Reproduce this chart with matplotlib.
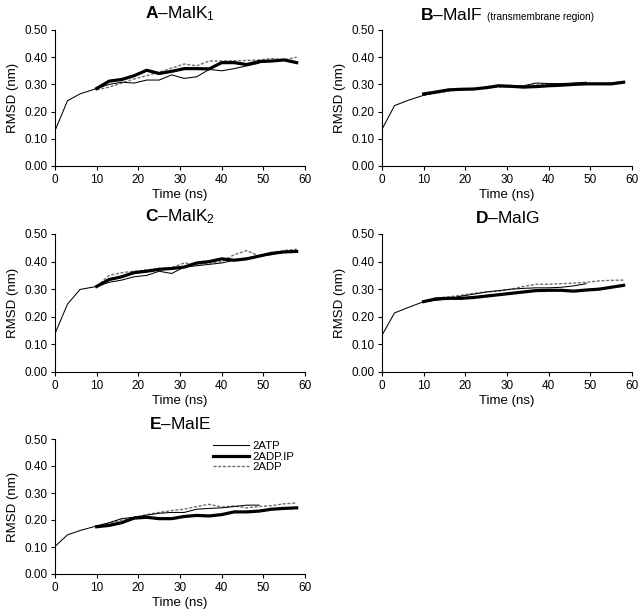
import matplotlib
matplotlib.use('Agg')
import matplotlib.pyplot as plt
from matplotlib.offsetbox import TextArea, HPacker, AnchoredOffsetbox

plt.rcParams['font.family'] = ['Liberation Sans', 'DejaVu Sans']
plt.rcParams['mathtext.fontset'] = 'custom'
plt.rcParams['mathtext.rm'] = 'Liberation Sans'
plt.rcParams['mathtext.bf'] = 'Liberation Sans:bold'
plt.rcParams['mathtext.it'] = 'Liberation Sans:italic'

# ---- data ----
T_ATP = [0, 3, 6, 10, 13, 16, 19, 22, 25, 28, 31, 34, 37, 40, 43, 46, 49, 52, 55, 58]
T_RUN = [10, 13, 16, 19, 22, 25, 28, 31, 34, 37, 40, 43, 46, 49, 52, 55, 58]

X_TICKS = [0, 10, 20, 30, 40, 50, 60]
Y_TICKS = [0.0, 0.1, 0.2, 0.3, 0.4, 0.5]
Y_TICK_LABELS = ['0.00', '0.10', '0.20', '0.30', '0.40', '0.50']
SERIES_NAMES = ['2ATP', '2ADP.IP', '2ADP']

# Panel A - MalK1
A_atp = [0.13, 0.24, 0.265, 0.285, 0.300, 0.308, 0.305, 0.316, 0.316, 0.335, 0.322, 0.328,
         0.355, 0.350, 0.358, 0.368, 0.378]
A_adpip = [0.285, 0.312, 0.318, 0.332, 0.352, 0.340, 0.348, 0.358, 0.358, 0.357, 0.380,
           0.380, 0.373, 0.384, 0.386, 0.390, 0.380]
A_adp = [0.280, 0.290, 0.305, 0.320, 0.332, 0.345, 0.360, 0.375, 0.368, 0.386, 0.386,
         0.387, 0.388, 0.390, 0.395, 0.390, 0.400]

# Panel B - MalF
B_atp = [0.135, 0.222, 0.240, 0.260, 0.270, 0.278, 0.283, 0.283, 0.287, 0.295, 0.293, 0.295,
         0.305, 0.303, 0.303, 0.305, 0.308]
B_adpip = [0.265, 0.272, 0.280, 0.282, 0.283, 0.288, 0.295, 0.293, 0.290, 0.292, 0.295,
           0.297, 0.300, 0.302, 0.302, 0.302, 0.308]
B_adp = [0.260, 0.268, 0.275, 0.283, 0.283, 0.287, 0.290, 0.290, 0.293, 0.298, 0.300,
         0.302, 0.303, 0.305, 0.305, 0.305, 0.310]

# Panel C - MalK2
C_atp = [0.139, 0.246, 0.299, 0.310, 0.325, 0.333, 0.345, 0.350, 0.365, 0.357, 0.380, 0.385,
         0.390, 0.395, 0.405, 0.410, 0.420, 0.425, 0.435, 0.440]
C_adpip = [0.310, 0.335, 0.345, 0.360, 0.365, 0.372, 0.375, 0.380, 0.395, 0.400, 0.410,
           0.405, 0.410, 0.420, 0.430, 0.435, 0.437]
C_adp = [0.310, 0.350, 0.360, 0.365, 0.370, 0.375, 0.378, 0.395, 0.390, 0.395, 0.400,
         0.425, 0.440, 0.420, 0.430, 0.440, 0.445]

# Panel D - MalG
D_atp = [0.133, 0.214, 0.232, 0.255, 0.260, 0.265, 0.275, 0.282, 0.290, 0.295, 0.300, 0.303,
         0.305, 0.305, 0.307, 0.312, 0.320]
D_adpip = [0.255, 0.265, 0.267, 0.267, 0.270, 0.275, 0.280, 0.285, 0.290, 0.295, 0.296,
           0.296, 0.293, 0.297, 0.300, 0.307, 0.314]
D_adp = [0.255, 0.268, 0.272, 0.278, 0.285, 0.290, 0.293, 0.300, 0.310, 0.318, 0.318,
         0.320, 0.322, 0.325, 0.330, 0.332, 0.333]

# Panel E - MalE
E_atp = [0.102, 0.145, 0.161, 0.178, 0.190, 0.205, 0.210, 0.218, 0.225, 0.228, 0.228, 0.240,
         0.243, 0.245, 0.250, 0.255, 0.255]
E_adpip = [0.175, 0.180, 0.190, 0.207, 0.210, 0.205, 0.205, 0.213, 0.217, 0.215, 0.220,
           0.230, 0.230, 0.233, 0.240, 0.243, 0.245]
E_adp = [0.178, 0.188, 0.200, 0.210, 0.220, 0.228, 0.235, 0.240, 0.250, 0.258, 0.248,
         0.252, 0.245, 0.250, 0.253, 0.260, 0.263]

PANELS = [
    ('A', r'–MalK$_1$', None, A_atp, A_adpip, A_adp),
    ('B', '–MalF', '(transmembrane region)', B_atp, B_adpip, B_adp),
    ('C', r'–MalK$_2$', None, C_atp, C_adpip, C_adp),
    ('D', '–MalG', None, D_atp, D_adpip, D_adp),
    ('E', '–MalE', None, E_atp, E_adpip, E_adp),
]

# axes rectangles in pixels: left, top, right, bottom
W, H = 643, 612
RECTS = [
    (55, 30, 305, 166),
    (382, 30, 632, 166),
    (55, 234, 305, 372),
    (382, 234, 632, 372),
    (55, 439, 305, 574),
]

fig = plt.figure(figsize=(W / 100, H / 100), dpi=100)

for (letter, name, sub, atp, adpip, adp), (l, t, r, b) in zip(PANELS, RECTS):
    ax = fig.add_axes([l / W, (H - b) / H, (r - l) / W, (b - t) / H])
    la, = ax.plot(T_ATP[:len(atp)], atp, color='black', lw=0.75, zorder=4)
    lb, = ax.plot(T_RUN[:len(adpip)], adpip, color='black', lw=2.3, zorder=3,
                  solid_joinstyle='round')
    lc, = ax.plot(T_RUN[:len(adp)], adp, color='#707070', lw=1.0, dashes=(2.2, 1.2), zorder=2)

    ax.set_xlim(0, 60)
    ax.set_ylim(0, 0.5)
    ax.set_xticks(X_TICKS)
    ax.set_xticklabels([str(x) for x in X_TICKS])
    ax.set_yticks(Y_TICKS)
    ax.set_yticklabels(Y_TICK_LABELS)
    ax.spines['top'].set_visible(False)
    ax.spines['right'].set_visible(False)
    for s in ('left', 'bottom'):
        ax.spines[s].set_linewidth(0.8)
    ax.tick_params(direction='out', length=3, width=0.8, labelsize=8.5, pad=2.5)
    ax.set_xlabel('Time (ns)', fontsize=9.5, labelpad=2.5)
    ax.set_ylabel('RMSD (nm)', fontsize=9.5, labelpad=4)

    parts = [TextArea(r'$\mathbf{' + letter + '}$' + name,
                      textprops=dict(fontsize=12.5))]
    if sub:
        parts.append(TextArea(sub, textprops=dict(fontsize=7.2)))
    pack = HPacker(children=parts, align='baseline', pad=0, sep=4)
    anc = AnchoredOffsetbox(loc='lower center', child=pack, pad=0, borderpad=0,
                            bbox_to_anchor=(0.5, 1.055), bbox_transform=ax.transAxes,
                            frameon=False)
    ax.add_artist(anc)

    if letter == 'E':
        ax.legend([la, lb, lc], SERIES_NAMES, loc='upper left',
                  bbox_to_anchor=(0.63, 0.985), frameon=False, fontsize=8.2,
                  handlelength=3.2, handletextpad=0.3, labelspacing=0.05,
                  borderpad=0, borderaxespad=0)

fig.savefig('out.png', dpi=100)
